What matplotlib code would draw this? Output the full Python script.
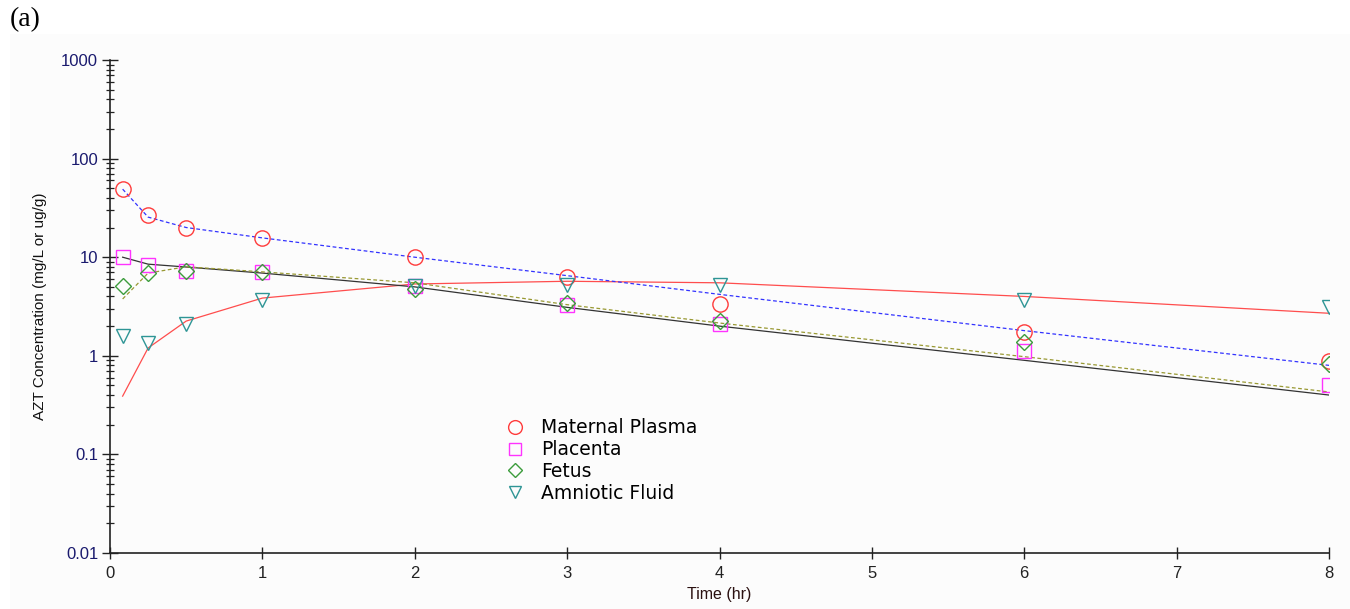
import matplotlib
matplotlib.use("Agg")
import matplotlib.pyplot as plt
from matplotlib.ticker import LogLocator, FixedLocator, NullFormatter
from matplotlib.patches import Rectangle

# Sampling times (hr)
times = [0.083, 0.25, 0.5, 1, 2, 3, 4, 6, 8]

# Observed AZT concentrations (mg/L or ug/g)
maternal_plasma = [49, 26.5, 19.8, 15.7, 10.0, 6.3, 3.35, 1.74, 0.89]
placenta = [10.0, 8.3, 7.2, 7.0, 5.1, 3.3, 2.1, 1.12, 0.51]
fetus = [5.1, 6.9, 7.2, 7.1, 4.75, 3.4, 2.25, 1.38, 0.83]
amniotic_fluid = [1.59, 1.35, 2.1, 3.7, 5.1, 5.2, 5.2, 3.7, 3.1]

# Model-predicted concentrations at the same times
fit_plasma = [49, 25.5, 20.0, 15.7, 10.0, 6.5, 4.2, 1.8, 0.8]
fit_placenta = [10.0, 8.5, 7.95, 6.9, 5.0, 3.1, 2.0, 0.9, 0.40]
fit_fetus = [3.77, 6.9, 8.0, 7.1, 5.5, 3.3, 2.15, 0.98, 0.43]
fit_amniotic = [0.39, 1.2, 2.25, 3.85, 5.35, 5.7, 5.5, 4.0, 2.7]

x_ticks = [0, 1, 2, 3, 4, 5, 6, 7, 8]
y_ticks = [0.01, 0.1, 1, 10, 100, 1000]
y_ticklabels = ["0.01", "0.1", "1", "10", "100", "1000"]

plt.rcParams["font.family"] = ["Liberation Sans", "DejaVu Sans"]

fig = plt.figure(figsize=(13.5, 6.09), dpi=100)
fig.patch.set_facecolor("white")
fig.add_artist(Rectangle((10 / 1350, 0), 1 - 10 / 1350, 1 - 34 / 609,
                         transform=fig.transFigure, facecolor="#fcfcfc",
                         edgecolor="none", zorder=-10))

ax = fig.add_axes([110 / 1350, 1 - 553 / 609, (1329 - 110) / 1350, (553 - 60) / 609])
ax.patch.set_alpha(0)

lw = 0.9
ax.plot(times, fit_amniotic, color="#ff4d4d", lw=lw, zorder=2)
ax.plot(times, fit_placenta, color="#333333", lw=lw, zorder=2)
ax.plot(times, fit_fetus, color="#999933", lw=lw, ls=(0, (3, 2)), zorder=2)
ax.plot(times, fit_plasma, color="#3333ff", lw=lw, ls=(0, (3, 2)), zorder=2)

ms_kw = dict(linestyle="none", markerfacecolor="none", markeredgewidth=1.0, zorder=3)
h1, = ax.plot(times, maternal_plasma, marker="o", markersize=11, markeredgecolor="#ff3b3b",
              label="Maternal Plasma", **ms_kw)
h2, = ax.plot(times, placenta, marker="s", markersize=10, markeredgecolor="#ff33ff",
              label="Placenta", **ms_kw)
h3, = ax.plot(times, fetus, marker="D", markersize=8, markeredgecolor="#3c9c3c",
              label="Fetus", **ms_kw)
h4, = ax.plot(times, amniotic_fluid, marker="v", markersize=10, markeredgecolor="#2e9595",
              label="Amniotic Fluid", **ms_kw)

ax.set_yscale("log")
ax.set_xlim(0, 8)
ax.set_ylim(0.01, 1000)
ax.xaxis.set_major_locator(FixedLocator(x_ticks))
ax.set_xticklabels([str(t) for t in x_ticks])
ax.yaxis.set_major_locator(FixedLocator(y_ticks))
ax.set_yticklabels(y_ticklabels)
ax.yaxis.set_minor_locator(LogLocator(base=10, subs=range(2, 10), numticks=20))
ax.yaxis.set_minor_formatter(NullFormatter())

for side in ("top", "right"):
    ax.spines[side].set_visible(False)
for side in ("left", "bottom"):
    ax.spines[side].set_color("#222222")
    ax.spines[side].set_linewidth(1.2)

ax.tick_params(axis="y", which="major", direction="inout", length=11, width=1.0,
               colors="#222222", labelcolor="#1a1a6e", labelsize=12, pad=3)
ax.tick_params(axis="y", which="minor", direction="inout", length=6, width=0.9,
               colors="#222222")
ax.tick_params(axis="x", which="major", direction="inout", length=8, width=1.0,
               colors="#222222", labelcolor="#222222", labelsize=12, pad=5)

ax.set_xlabel("Time (hr)", fontsize=11.5, color="#2a1010", labelpad=5)
ax.set_ylabel("AZT Concentration (mg/L or ug/g)", fontsize=11, color="#111111", labelpad=10)

leg = ax.legend(handles=[h1, h2, h3, h4], loc="upper left",
                bbox_to_anchor=(494 / 1350, 1 - 409 / 609), bbox_transform=fig.transFigure,
                frameon=False, prop={"family": "DejaVu Sans", "size": 13.5},
                handlelength=1.2, handletextpad=0.8,
                labelspacing=0.15, borderpad=0)
for h in leg.legend_handles:
    h.set_markersize(h.get_markersize() * 0.9)

fig.text(10 / 1350, 1 - 20 / 609, "(a)", family=["Liberation Serif", "DejaVu Serif"],
         fontsize=20, va="center", ha="left", color="black")

fig.savefig("out.png", dpi=100)
